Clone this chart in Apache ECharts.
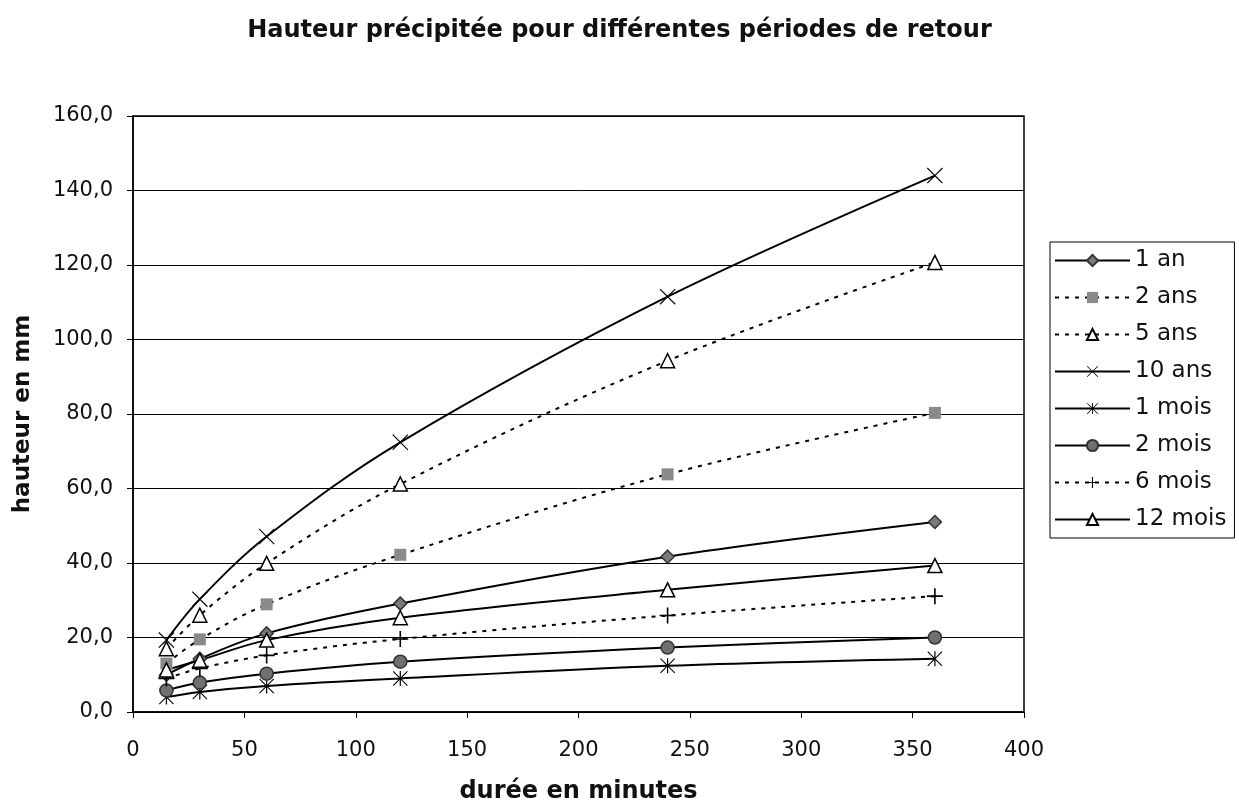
<!DOCTYPE html>
<html>
<head>
<meta charset="utf-8">
<title>Hauteur précipitée</title>
<script src="https://cdn.jsdelivr.net/npm/echarts@6/dist/echarts.min.js"></script>
<style>
  html, body { margin: 0; padding: 0; background: #fff; }
  #chart { width: 1239px; height: 809px; }
</style>
</head>
<body>
<div id="chart"></div>
<script>
// durées (minutes)
var durees = [15, 30, 60, 120, 240, 360]
// hauteurs (mm)
var an1 = [10.0, 14.3, 21.1, 29.1, 41.7, 51.0]
var ans2 = [13.0, 19.5, 28.9, 42.2, 63.8, 80.3]
var ans5 = [17.0, 26.0, 39.9, 61.2, 94.3, 120.7]
var ans10 = [19.3, 30.3, 47.1, 72.4, 111.5, 144.0]
var mois1 = [4.0, 5.4, 7.0, 9.0, 12.4, 14.3]
var mois2 = [5.8, 7.9, 10.3, 13.5, 17.3, 20.0]
var mois6 = [9.0, 11.7, 15.2, 19.6, 25.9, 31.1]
var mois12 = [11.3, 13.9, 19.3, 25.3, 32.8, 39.3]

var yTicks = [0, 20, 40, 60, 80, 100, 120, 140, 160]
var xTicks = [0, 50, 100, 150, 200, 250, 300, 350, 400]

var crossPath = 'path://M0,1 L1,0 L10,9 L19,0 L20,1 L11,10 L20,19 L19,20 L10,11 L1,20 L0,19 L9,10 Z'
var starPath = 'path://M0,1 L1,0 L10,9 L19,0 L20,1 L11,10 L20,19 L19,20 L10,11 L1,20 L0,19 L9,10 Z M9.2,0 L10.8,0 L10.8,20 L9.2,20 Z'
var plusPath = 'path://M9,0 L11,0 L11,9 L20,9 L20,11 L11,11 L11,20 L9,20 L9,11 L0,11 L0,9 L9,9 Z'

var font = 'DejaVu Sans'
var dots = [4, 6]

function pairs(values) {
  return durees.map(function(d, i) {
    return [d, values[i]]
  })
}

function makeSeries(name, values, symbol, size, dashed, fill, border) {
  return {
    name: name,
    type: 'line',
    data: pairs(values),
    smooth: 0.35,
    symbol: symbol,
    symbolSize: size,
    showAllSymbol: true,
    lineStyle: {
      color: '#000',
      width: 2,
      type: dashed ? dots : 'solid'
    },
    itemStyle: {
      color: fill,
      borderColor: border,
      borderWidth: border ? 1.5 : 0
    },
    emphasis: { disabled: true }
  }
}

var chart = echarts.init(document.getElementById('chart'))

chart.setOption({
  animation: false,
  backgroundColor: '#fff',
  textStyle: { fontFamily: font, color: '#000' },
  title: {
    text: 'Hauteur précipitée pour différentes périodes de retour',
    left: 'center',
    top: 14,
    textStyle: { fontFamily: font, fontSize: 24, fontWeight: 'bold', color: '#111' }
  },
  grid: {
    left: 133,
    top: 116,
    width: 891,
    height: 598,
    show: true,
    borderColor: '#000',
    borderWidth: 1.5,
    backgroundColor: 'transparent'
  },
  legend: {
    orient: 'vertical',
    left: 1050,
    top: 242,
    padding: [7, 8, 7, 4],
    itemWidth: 75,
    itemHeight: 14,
    itemGap: 14,
    borderColor: '#000',
    borderWidth: 1,
    backgroundColor: '#fff',
    textStyle: { fontFamily: font, fontSize: 23, color: '#111' },
    data: ['1 an', '2 ans', '5 ans', '10 ans', '1 mois', '2 mois', '6 mois', '12 mois']
  },
  xAxis: {
    type: 'value',
    min: xTicks[0],
    max: xTicks[xTicks.length - 1],
    interval: 50,
    name: 'durée en minutes',
    nameLocation: 'middle',
    nameGap: 68,
    nameTextStyle: { fontFamily: font, fontSize: 24, fontWeight: 'bold', color: '#111' },
    axisLine: { show: true, lineStyle: { color: '#000', width: 1.5 } },
    axisTick: { show: true, inside: false, length: 6, lineStyle: { color: '#000' } },
    axisLabel: { fontFamily: font, fontSize: 21, color: '#111', margin: 28 },
    splitLine: { show: false }
  },
  yAxis: {
    type: 'value',
    min: yTicks[0],
    max: yTicks[yTicks.length - 1],
    interval: 20,
    name: 'hauteur en mm',
    nameLocation: 'middle',
    nameGap: 98,
    nameTextStyle: { fontFamily: font, fontSize: 23, fontWeight: 'bold', color: '#111' },
    axisLine: { show: true, lineStyle: { color: '#000', width: 1.5 } },
    axisTick: { show: true, inside: false, length: 6, lineStyle: { color: '#000' } },
    axisLabel: {
      fontFamily: font,
      fontSize: 21,
      color: '#111',
      margin: 20,
      formatter: function(v) {
        return v.toFixed(1).replace('.', ',')
      }
    },
    splitLine: { show: true, lineStyle: { color: '#000', width: 1 } }
  },
  series: [
    makeSeries('1 an', an1, 'diamond', 13, false, '#7a7a7a', '#333'),
    makeSeries('2 ans', ans2, 'rect', 12, true, '#8a8a8a', null),
    makeSeries('5 ans', ans5, 'triangle', 14, true, '#fff', '#000'),
    makeSeries('10 ans', ans10, crossPath, 16, false, '#000', null),
    makeSeries('1 mois', mois1, starPath, 15, false, '#000', null),
    makeSeries('2 mois', mois2, 'circle', 13, false, '#707070', '#333'),
    makeSeries('6 mois', mois6, plusPath, 16, true, '#000', null),
    makeSeries('12 mois', mois12, 'triangle', 14, false, '#fff', '#000')
  ]
})
</script>
</body>
</html>
